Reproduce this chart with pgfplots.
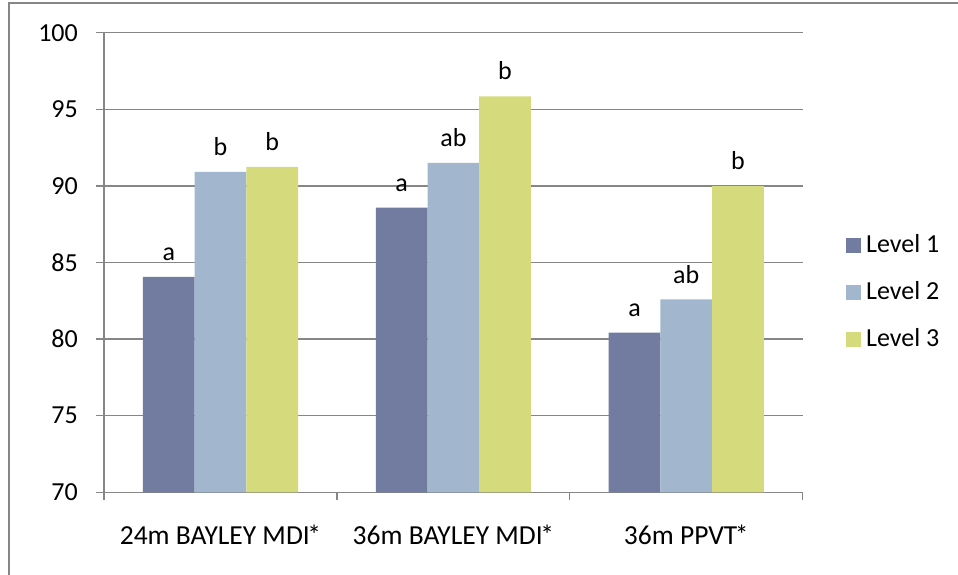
\documentclass[border=0pt]{standalone}
\usepackage{fontspec}
\setmainfont{Carlito}
\usepackage{pgfplots}
\pgfplotsset{compat=1.18}

\definecolor{lvA}{HTML}{727BA0}
\definecolor{lvB}{HTML}{A2B7CE}
\definecolor{lvC}{HTML}{D5DB7C}
\definecolor{axgray}{HTML}{868686}

\newcommand{\chartfont}{\fontsize{26bp}{31bp}\selectfont}
\newcommand{\catfont}{\fontsize{27.5bp}{33bp}\selectfont}
\newcommand{\sigmark}{\kern-2.5bp*}

\begin{document}
\chartfont
\begin{tikzpicture}
% page frame
\path[use as bounding box] (0bp,-575bp) rectangle (958bp,0bp);
\draw[axgray, line width=1.3bp] (9bp,-575bp) -- (9bp,-3bp) -- (958bp,-3bp);
\begin{axis}[
  at={(104bp,-492.3bp)}, anchor=south west,
  width=698.7bp, height=459.6bp, scale only axis,
  ybar=0pt, bar width=51.7bp,
  xmin=-0.5, xmax=2.5, ymin=70, ymax=100,
  ytick={70,75,...,100},
  xtick={-0.5,0.5,1.5,2.5},
  x tick label as interval,
  xticklabels={\mbox{24m BAYLEY MDI\sigmark}, \mbox{36m BAYLEY MDI\sigmark}, \mbox{36m PPVT\sigmark}},
  axis x line*=bottom, axis y line*=left,
  axis line style={axgray, line width=1.3bp},
  tick style={axgray, line width=1.3bp},
  major tick length=8bp, tick align=outside,
  ymajorgrids, grid style={axgray, line width=1.3bp},
  /pgf/number format/assume math mode=true,
  tick label style={font=\chartfont, text=black},
  yticklabel style={inner sep=0pt, anchor=east, xshift=-18bp},
  xticklabel style={font=\catfont, inner sep=0pt, anchor=base, yshift=-44.5bp},
  point meta=explicit symbolic,
  nodes near coords,
  nodes near coords style={font=\chartfont, inner sep=0pt, anchor=south, yshift=16bp},
  legend style={at={(1,0.5)}, anchor=west, xshift=43.3bp, yshift=-29.5bp,
    draw=none, fill=none, inner sep=0pt, row sep=25bp, font=\chartfont,
    nodes={inner xsep=5bp, inner ysep=0pt}},
  legend cell align=left,
]
\addplot[fill=lvA, draw=none,
  legend image code/.code={\fill[lvA] (0bp,-7.8bp) rectangle (15bp,7.2bp);}]
  coordinates {(0,84.07) [a] (1,88.59) [a] (2,80.42) [a]};
\addplot[fill=lvB, draw=none,
  legend image code/.code={\fill[lvB] (0bp,-7.8bp) rectangle (15bp,7.2bp);}]
  coordinates {(0,90.92) [b] (1,91.50) [ab] (2,82.59) [ab]};
\addplot[fill=lvC, draw=none,
  legend image code/.code={\fill[lvC] (0bp,-7.8bp) rectangle (15bp,7.2bp);}]
  coordinates {(0,91.25) [b] (1,95.85) [b] (2,89.98) [b]};
\legend{Level 1, Level 2, Level 3}
\end{axis}
\end{tikzpicture}
\end{document}
